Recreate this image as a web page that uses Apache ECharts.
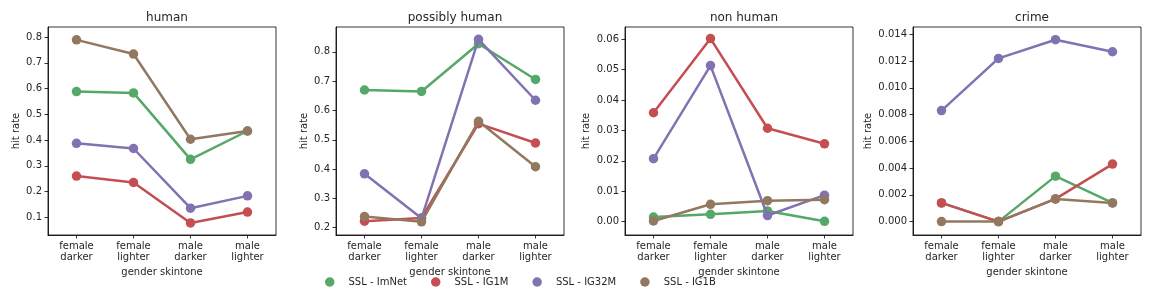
<!DOCTYPE html>
<html>
<head>
<meta charset="utf-8">
<script src="https://cdn.jsdelivr.net/npm/echarts@6/dist/echarts.min.js"></script>
<style>html,body{margin:0;padding:0;background:#fff}#c{width:1152px;height:288px}</style>
</head>
<body>
<div id="c"></div>
<script>
const categories = ["female\ndarker", "female\nlighter", "male\ndarker", "male\nlighter"];
const seriesNames = ["SSL - ImNet", "SSL - IG1M", "SSL - IG32M", "SSL - IG1B"];
const panelTitles = ["human", "possibly human", "non human", "crime"];

// values per panel, series order: ImNet, IG1M, IG32M, IG1B
const humanImNet = [0.588, 0.583, 0.325, 0.435];
const humanIG1M = [0.260, 0.235, 0.078, 0.120];
const humanIG32M = [0.387, 0.367, 0.135, 0.183];
const humanIG1B = [0.789, 0.734, 0.403, 0.435];

const possImNet = [0.670, 0.665, 0.828, 0.706];
const possIG1M = [0.222, 0.233, 0.555, 0.489];
const possIG32M = [0.384, 0.232, 0.843, 0.635];
const possIG1B = [0.238, 0.220, 0.563, 0.408];

const nonImNet = [0.0015, 0.0024, 0.0035, 0.0001];
const nonIG1M = [0.0358, 0.0602, 0.0307, 0.0256];
const nonIG32M = [0.0207, 0.0513, 0.0020, 0.0087];
const nonIG1B = [0.0002, 0.0057, 0.0069, 0.0072];

const crimeImNet = [0.0014, 0.0000, 0.0034, 0.0014];
const crimeIG1M = [0.0014, 0.0000, 0.0017, 0.0043];
const crimeIG32M = [0.0083, 0.0122, 0.0136, 0.0127];
const crimeIG1B = [0.0000, 0.0000, 0.0017, 0.0014];

const humanTicks = [0.1, 0.2, 0.3, 0.4, 0.5, 0.6, 0.7, 0.8];
const possTicks = [0.2, 0.3, 0.4, 0.5, 0.6, 0.7, 0.8];
const nonTicks = [0.00, 0.01, 0.02, 0.03, 0.04, 0.05, 0.06];
const crimeTicks = [0.000, 0.002, 0.004, 0.006, 0.008, 0.010, 0.012, 0.014];

const panelData = [
  [humanImNet, humanIG1M, humanIG32M, humanIG1B],
  [possImNet, possIG1M, possIG32M, possIG1B],
  [nonImNet, nonIG1M, nonIG32M, nonIG1B],
  [crimeImNet, crimeIG1M, crimeIG32M, crimeIG1B]
];
const panelTicks = [humanTicks, possTicks, nonTicks, crimeTicks];
const tickDecimals = [1, 1, 2, 3];
const yRanges = [[0.031, 0.839], [0.175, 0.885], [-0.0044, 0.064], [-0.001, 0.01455]];

const colors = ["#55a868", "#c44e52", "#8172b2", "#937860"];
const gridLefts = [48, 336, 625, 913];
const gridWidth = 228;
const font = "DejaVu Sans";
const txt = "#262626";
const fs = 10;

const grids = [], xAxes = [], yAxes = [], series = [], titles = [];
for (let p = 0; p < 4; p++) {
  grids.push({left: gridLefts[p], top: 27, width: gridWidth, height: 208, show: true, borderColor: "#000", borderWidth: 0.8, containLabel: false});
  titles.push({text: panelTitles[p], left: gridLefts[p] + gridWidth / 2, top: 7, textAlign: "center",
    textStyle: {fontFamily: font, fontSize: 12, fontWeight: "normal", color: txt}});
  xAxes.push({type: "category", gridIndex: p, data: categories, boundaryGap: true,
    name: "gender skintone", nameLocation: "middle", nameGap: 32,
    nameTextStyle: {fontFamily: font, fontSize: fs, color: txt},
    axisLine: {show: true, onZero: false, lineStyle: {color: "#000", width: 0.8}},
    axisTick: {show: true, alignWithLabel: true, length: 3.5, lineStyle: {color: "#000", width: 0.8}},
    axisLabel: {fontFamily: font, fontSize: fs, color: txt, lineHeight: 10.5, margin: 6.5, interval: 0},
    splitLine: {show: false}});
  const dec = tickDecimals[p];
  yAxes.push({type: "value", gridIndex: p, min: yRanges[p][0], max: yRanges[p][1],
    name: "hit rate", nameLocation: "middle", nameRotate: 90,
    nameGap: [27, 27, 34, 40][p],
    nameTextStyle: {fontFamily: font, fontSize: fs, color: txt},
    axisLine: {show: true, onZero: false, lineStyle: {color: "#000", width: 0.8}},
    axisTick: {show: true, length: 3.5, customValues: panelTicks[p], lineStyle: {color: "#000", width: 0.8}},
    axisLabel: {fontFamily: font, fontSize: fs, color: txt, margin: 6, customValues: panelTicks[p],
      formatter: v => Number(v).toFixed(dec)},
    splitLine: {show: false}});
  for (let s = 0; s < 4; s++) {
    series.push({type: "line", name: seriesNames[s], xAxisIndex: p, yAxisIndex: p,
      data: panelData[p][s], symbol: "circle", symbolSize: 9.5, showSymbol: true,
      lineStyle: {width: 2.5, color: colors[s]}, itemStyle: {color: colors[s]},
      z: 2 + s, animation: false});
  }
}

const chart = echarts.init(document.getElementById("c"), null, {renderer: "canvas"});
chart.setOption({
  animation: false,
  color: colors,
  title: titles,
  grid: grids,
  xAxis: xAxes,
  yAxis: yAxes,
  legend: {data: seriesNames, top: 277, left: 325, padding: 0, icon: "circle", itemWidth: 9.5, itemHeight: 9.5, itemGap: 24,
    textStyle: {fontFamily: font, fontSize: fs, color: txt, padding: [0, 0, 0, 9]}},
  series: series
});
</script>
</body>
</html>
